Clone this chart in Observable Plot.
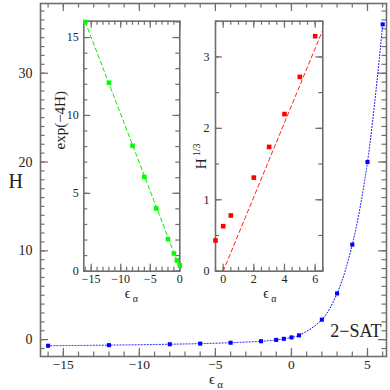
<!DOCTYPE html>
<html><head><meta charset="utf-8">
<script src="https://cdn.jsdelivr.net/npm/d3@7"></script>
<script src="https://cdn.jsdelivr.net/npm/@observablehq/plot@0.6"></script>
<style>body{margin:0;background:#fff} #chart{position:relative;width:390px;height:390px}</style>
</head><body><div id="chart"></div>
<script>
// Main panel: H vs epsilon_alpha
const eps = [-16, -12, -8, -6, -4, -2, -1, -0.5, 0, 0.5, 2, 3, 4, 5, 6];
const H = [-0.69, -0.62, -0.52, -0.45, -0.35, -0.18, -0.03, 0.09, 0.25, 0.48, 2.25, 5.2, 10.7, 20.0, 35.5];
// Inset 1: exp(-4H) vs epsilon (negative side)
const epsNeg = [-16, -12, -8, -6, -4, -2, -1, -0.5, 0];
const expm4H = [16.0, 12.1, 8.05, 6.05, 4.03, 2.06, 1.14, 0.69, 0.37];
const greenFitX = [-16, 0];
const greenFitY = [16.0, 0.2];
// Inset 2: H^{1/3} vs epsilon (positive side)
const epsPos = [-0.5, 0, 0.5, 2, 3, 4, 5, 6];
const Hcube = [0.43, 0.63, 0.78, 1.31, 1.74, 2.2, 2.72, 3.29];
const redFitX = [0, 6.6];
const redFitY = [0, 3.43];
// tick labels
const mainXTicks = [-15, -10, -5, 0, 5];
const mainYTicks = [0, 10, 20, 30];
const in1XTicks = [-15, -10, -5, 0];
const in1YTicks = [0, 5, 10, 15];
const in2XTicks = [0, 2, 4, 6];
const in2YTicks = [0, 1, 2, 3];

const AX = "#6e6e6e";
const TXT = "#222";
const FONT = "Liberation Serif";
const fmt = d => String(d).replace("-", "\u2212");
const zip = (xs, ys) => xs.map((x, i) => ({x, y: ys[i]}));

function frameTicks(fw, fh, xMaj, xMin, yMaj, yMin, lMaj, lMin) {
  const o = {stroke: AX, strokeWidth: 1.2};
  const f = d => d;
  return [
    Plot.ruleX(xMin, {x: f, insetTop: fh - lMin, ...o}),
    Plot.ruleX(xMin, {x: f, insetBottom: fh - lMin, ...o}),
    Plot.ruleX(xMaj, {x: f, insetTop: fh - lMaj, ...o}),
    Plot.ruleX(xMaj, {x: f, insetBottom: fh - lMaj, ...o}),
    Plot.ruleY(yMin, {y: f, insetRight: fw - lMin, ...o}),
    Plot.ruleY(yMin, {y: f, insetLeft: fw - lMin, ...o}),
    Plot.ruleY(yMaj, {y: f, insetRight: fw - lMaj, ...o}),
    Plot.ruleY(yMaj, {y: f, insetLeft: fw - lMaj, ...o})
  ];
}
const baseStyle = {fontFamily: FONT, background: "transparent", position: "absolute", left: "0px", top: "0px", overflow: "visible"};

// ---------- main ----------
const mL = 40, mR = 4, mT = 3, mB = 34;
const main = Plot.plot({
  width: 390, height: 390, marginLeft: mL, marginRight: mR, marginTop: mT, marginBottom: mB,
  x: {domain: [-16.5, 6.25], axis: null},
  y: {domain: [-1.9, 37.85], axis: null},
  style: baseStyle,
  marks: [
    ...frameTicks(390 - mL - mR, 390 - mT - mB, mainXTicks, d3.range(-16, 7, 1), mainYTicks, d3.range(-1, 38, 1), 8, 4.5),
    Plot.frame({stroke: AX, strokeWidth: 1.6}),
    Plot.line(zip(eps, H), {x: "x", y: "y", curve: "catmull-rom", stroke: "#0000ff", strokeWidth: 1, strokeDasharray: "1,2"}),
    Plot.dot(zip(eps, H), {x: "x", y: "y", symbol: "square", r: 2.3, fill: "#0000ff"}),
    Plot.text(mainXTicks, {x: d => d, frameAnchor: "bottom", dy: 12, text: fmt, fontSize: 13.5, fill: TXT}),
    Plot.text(mainYTicks, {y: d => d, frameAnchor: "left", dx: -8, textAnchor: "end", text: fmt, fontSize: 14, fill: TXT}),
    Plot.text(["H"], {frameAnchor: "left", dx: -32, dy: 1.5, text: d => d, fontSize: 20, fill: TXT}),
    Plot.text(["\u03F5"], {frameAnchor: "bottom", dx: -1.5, dy: 27, text: d => d, fontSize: 15, fill: TXT}),
    Plot.text(["\u03B1"], {frameAnchor: "bottom", dx: 6.5, dy: 31, text: d => d, fontSize: 11, fill: TXT}),
    Plot.text(["2\u2212SAT"], {frameAnchor: "bottom-right", textAnchor: "end", dx: -5, dy: -20, text: d => d, fontSize: 18, fill: TXT})
  ]
});

// ---------- inset 1 ----------
const i1L = 83.3, i1R = 390 - 179.3, i1T = 20.7, i1B = 390 - 270.7;
const in1 = Plot.plot({
  width: 390, height: 390, marginLeft: i1L, marginRight: i1R, marginTop: i1T, marginBottom: i1B,
  x: {domain: [-16.25, 0], axis: null},
  y: {domain: [0, 16.05], axis: null},
  style: baseStyle,
  marks: [
    ...frameTicks(390 - i1L - i1R, 390 - i1T - i1B, in1XTicks, d3.range(-16, 1, 1), in1YTicks, d3.range(0, 17, 1), 7, 4),
    Plot.frame({stroke: AX, strokeWidth: 1.6}),
    Plot.line(zip(greenFitX, greenFitY), {x: "x", y: "y", stroke: "#00ee00", strokeWidth: 1, strokeDasharray: "4,3", clip: true}),
    Plot.dot(zip(epsNeg, expm4H), {x: "x", y: "y", symbol: "square", r: 2.6, fill: "#00ff00"}),
    Plot.text(in1XTicks, {x: d => d, frameAnchor: "bottom", dy: 11.5, text: fmt, fontSize: 12, fill: TXT}),
    Plot.text(in1YTicks, {y: d => d, frameAnchor: "left", dx: -5, textAnchor: "end", text: fmt, fontSize: 12, fill: TXT}),
    Plot.text(["exp(\u22124H)"], {frameAnchor: "left", dx: -23.3, dy: 3.3, rotate: -90, text: d => d, fontSize: 15, fill: TXT}),
    Plot.text(["\u03F5"], {frameAnchor: "bottom", dx: -4.3, dy: 26.5, text: d => d, fontSize: 14, fill: TXT}),
    Plot.text(["\u03B1"], {frameAnchor: "bottom", dx: 3.5, dy: 30.5, text: d => d, fontSize: 10, fill: TXT})
  ]
});

// ---------- inset 2 ----------
const i2L = 215, i2R = 390 - 322.3, i2T = 20.7, i2B = 390 - 270.7;
const in2 = Plot.plot({
  width: 390, height: 390, marginLeft: i2L, marginRight: i2R, marginTop: i2T, marginBottom: i2B,
  x: {domain: [-0.5, 6.5], axis: null},
  y: {domain: [0, 3.5], axis: null},
  style: baseStyle,
  marks: [
    ...frameTicks(390 - i2L - i2R, 390 - i2T - i2B, in2XTicks, d3.range(-0.5, 6.51, 0.5), in2YTicks, d3.range(0, 3.51, 0.5), 7, 4),
    Plot.frame({stroke: AX, strokeWidth: 1.6}),
    Plot.line(zip(redFitX, redFitY), {x: "x", y: "y", stroke: "#ff2020", strokeWidth: 1, strokeDasharray: "4,3", clip: true}),
    Plot.dot(zip(epsPos, Hcube), {x: "x", y: "y", symbol: "square", r: 2.6, fill: "#ff0000"}),
    Plot.text(in2XTicks, {x: d => d, frameAnchor: "bottom", dy: 11.5, text: fmt, fontSize: 12, fill: TXT}),
    Plot.text(in2YTicks, {y: d => d, frameAnchor: "left", dx: -6, textAnchor: "end", text: fmt, fontSize: 12, fill: TXT}),
    Plot.text(["H"], {frameAnchor: "left", dx: -14, dy: 23, rotate: -90, text: d => d, fontSize: 15, fill: TXT}),
    Plot.text(["1/3"], {frameAnchor: "left", dx: -18.5, dy: 10, rotate: -90, text: d => d, fontSize: 10, fill: TXT}),
    Plot.text(["\u03F5"], {frameAnchor: "bottom", dx: -3, dy: 26.5, text: d => d, fontSize: 14, fill: TXT}),
    Plot.text(["\u03B1"], {frameAnchor: "bottom", dx: 4.8, dy: 30.5, text: d => d, fontSize: 10, fill: TXT})
  ]
});

const chart = document.getElementById("chart");
chart.append(main, in1, in2);
</script>
</body></html>
